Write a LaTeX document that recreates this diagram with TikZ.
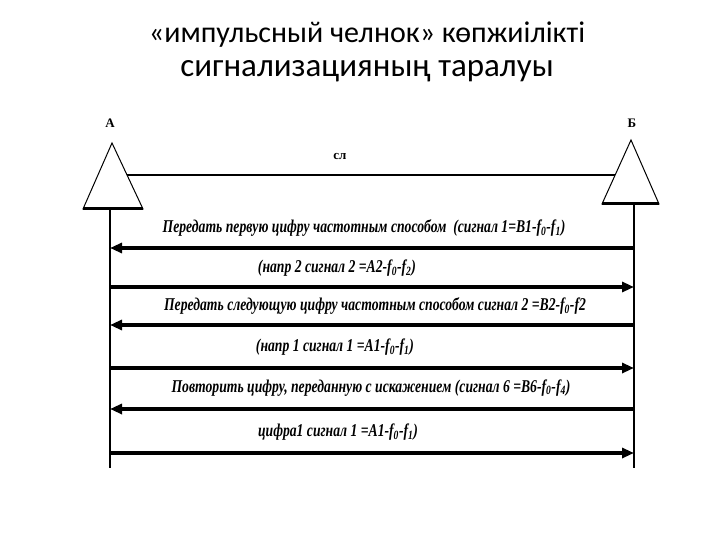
\documentclass[tikz,border=0pt]{standalone}
\usepackage{fontspec}
\setmainfont{Liberation Serif}
\newfontfamily\titlefont{Carlito}
\newfontfamily\msgfont{Liberation Serif}[FakeStretch=0.76]
\usetikzlibrary{arrows.meta}

\newcommand{\fsub}[1]{f\textsubscript{#1}}

\begin{document}
\begin{tikzpicture}[
    x=1pt, y=-1pt,
    >={Triangle[length=12pt, width=10pt]}, % Filled arrow tips
    station/.style={line width=1pt}, % Triangle outline of a station
    stationbase/.style={line width=3pt}, % Thick base of a station
    lifeline/.style={line width=1.5pt}, % Vertical time line
    msg/.style={->, line width=3.5pt}, % Signal arrow
    msglabel/.style={font=\msgfont\bfseries\itshape\fontsize{18}{18}\selectfont},
    stationlabel/.style={font=\bfseries\fontsize{13}{13}\selectfont},
    titlestyle/.style={font=\titlefont\fontsize{30}{30}\selectfont}
]
    \useasboundingbox (0,0) rectangle (720,540);

    % Title
    \node[titlestyle] (title1) at (367,35) {«импульсный челнок» көпжиілікті};
    \node[titlestyle, font=\titlefont\fontsize{33}{33}\selectfont] (title2) at (367,71) {сигнализацияның таралуы};

    % Station A
    \coordinate (Atop)   at (112,143);
    \coordinate (Aleft)  at (83,209);
    \coordinate (Aright) at (143,209);
    \coordinate (Abase)  at (110,209);
    \coordinate (Aend)   at (110,468);
    \draw[station] (Atop) -- (Aleft) -- (Aright) -- cycle;
    \draw[stationbase] (Aleft) -- (Aright);
    \node[stationlabel] (labelA) at (110,123) {А};

    % Station B
    \coordinate (Btop)   at (631,140);
    \coordinate (Bleft)  at (602,204);
    \coordinate (Bright) at (659,204);
    \coordinate (Bbase)  at (634,204);
    \coordinate (Bend)   at (634,468);
    \draw[station] (Btop) -- (Bleft) -- (Bright) -- cycle;
    \draw[stationbase] (Bleft) -- (Bright);
    \node[stationlabel] (labelB) at (632,123) {Б};

    % Connecting line
    \coordinate (Aside) at (127,175);
    \coordinate (Bside) at (615,175);
    \draw[line width=2.5pt] (Aside) -- (Bside);
    \node[font=\bfseries\fontsize{13}{13}\selectfont] (sl) at (340,157) {сл};

    % Lifelines
    \draw[lifeline] (Abase) -- (Aend);
    \draw[lifeline] (Bbase) -- (Bend);

    % Points on the lifelines
    \coordinate (a1) at (110,248); \coordinate (b1) at (634,248);
    \coordinate (a2) at (110,287); \coordinate (b2) at (634,287);
    \coordinate (a3) at (110,325); \coordinate (b3) at (634,325);
    \coordinate (a4) at (110,368); \coordinate (b4) at (634,368);
    \coordinate (a5) at (110,409); \coordinate (b5) at (634,409);
    \coordinate (a6) at (110,453); \coordinate (b6) at (634,453);

    % Signals
    \draw[msg] (b1) -- (a1);
    \draw[msg] (a2) -- (b2);
    \draw[msg] (b3) -- (a3);
    \draw[msg] (a4) -- (b4);
    \draw[msg] (b5) -- (a5);
    \draw[msg] (a6) -- (b6);

    % Signal labels
    \node[msglabel] (m1) at (364,228) {Передать первую цифру частотным способом\ \ (сигнал 1=В1-\fsub{0}-\fsub{1})};
    \node[msglabel] (m2) at (337,268) {(напр 2 сигнал 2 =А2-\fsub{0}-\fsub{2})};
    \node[msglabel] (m3) at (375,306) {Передать следующую цифру частотным способом сигнал 2 =В2-\fsub{0}-f2};
    \node[msglabel] (m4) at (335,347) {(напр 1 сигнал 1 =А1-\fsub{0}-\fsub{1})};
    \node[msglabel] (m5) at (371,388) {Повторить цифру, переданную с искажением (сигнал 6 =В6-\fsub{0}-\fsub{4})};
    \node[msglabel] (m6) at (338,432) {цифра1 сигнал 1 =А1-\fsub{0}-\fsub{1})};

\end{tikzpicture}
\end{document}
